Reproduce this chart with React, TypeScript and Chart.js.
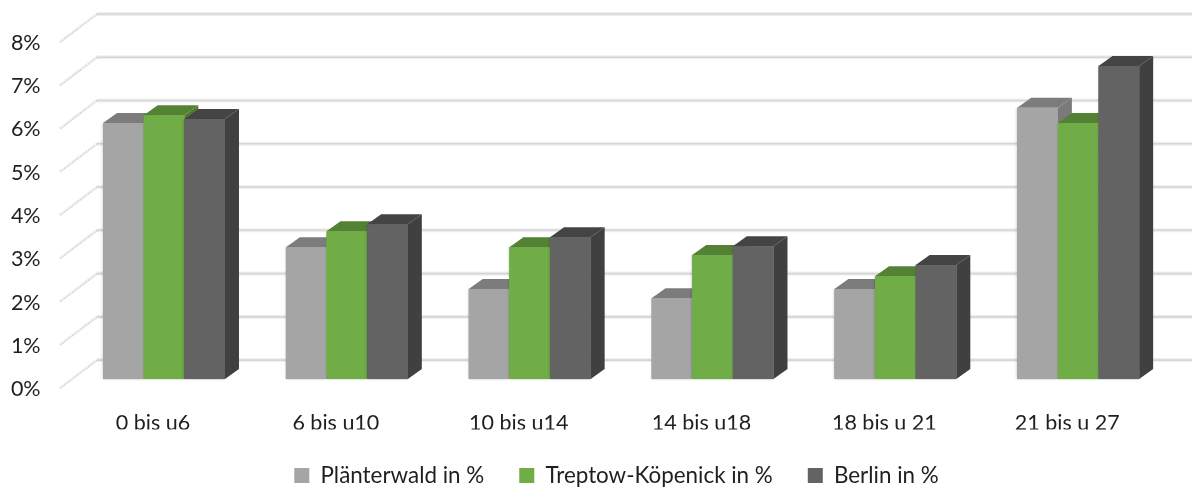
import React, { useEffect, useRef } from "react";
import { Chart, registerables } from "chart.js";

Chart.register(...registerables);

const categories = ["0 bis u6", "6 bis u10", "10 bis u14", "14 bis u18", "18 bis u 21", "21 bis u 27"];
const plaenterwald = [5.92, 3.05, 2.08, 1.87, 2.08, 6.27];
const treptow = [6.1, 3.42, 3.05, 2.87, 2.38, 5.92];
const berlin = [6.01, 3.58, 3.28, 3.07, 2.64, 7.24];
const seriesNames = ["Plänterwald in %", "Treptow-Köpenick in %", "Berlin in %"];
const frontColors = ["#a5a5a5", "#70ad47", "#636363"];
const topColors = ["#7c7c7c", "#548235", "#444444"];
const sideColors = ["#7a7a7a", "#4f7a32", "#404040"];

const DEPTH_X = 14;
const DEPTH_Y = 10;
const WALL_DY = -19;
const FLOOR_DY = 9;
const WALL_LEFT = 97;
const FRONT_LEFT = 60;

const depthPlugin = {
  id: "depth",
  afterLayout(chart: any) {
    // tick labels are clipped to the axis box: let it reach the canvas edge
    chart.scales.y.left = 0;
  },
  beforeDatasetsDraw(chart: any) {
    const { ctx, scales } = chart;
    const y = scales.y;
    ctx.save();
    for (const tick of y.ticks) {
      const p = y.getPixelForValue(tick.value);
      const back = p + WALL_DY;
      const front = p + FLOOR_DY;
      ctx.strokeStyle = "#efefef";
      ctx.lineWidth = 4;
      ctx.beginPath();
      ctx.moveTo(WALL_LEFT, back);
      ctx.lineTo(chart.width, back);
      ctx.stroke();
      ctx.strokeStyle = "#d6d6d6";
      ctx.lineWidth = 1.6;
      ctx.beginPath();
      ctx.moveTo(WALL_LEFT, back);
      ctx.lineTo(chart.width, back);
      ctx.stroke();
      ctx.strokeStyle = "#d6d6d6";
      ctx.lineWidth = 2.4;
      ctx.setLineDash([1.5, 1]);
      ctx.beginPath();
      ctx.moveTo(FRONT_LEFT, front);
      ctx.lineTo(WALL_LEFT, back);
      ctx.stroke();
      ctx.setLineDash([]);
    }
    ctx.restore();
    // paint series left to right so each bar overlaps the side of the one before
    [0, 1, 2].forEach((i) => {
      const meta = chart.getDatasetMeta(i);
      for (const bar of meta.data) {
        const { x, y: top, base, width } = bar.getProps(["x", "y", "base", "width"], true);
        const l = x - width / 2;
        const r = x + width / 2;
        ctx.save();
        ctx.shadowColor = "rgba(0,0,0,0.28)";
        ctx.shadowBlur = 3;
        ctx.fillStyle = frontColors[i];
        ctx.fillRect(l, top, width, base - top);
        ctx.restore();
        ctx.fillStyle = sideColors[i];
        ctx.beginPath();
        ctx.moveTo(r, top);
        ctx.lineTo(r + DEPTH_X, top - DEPTH_Y);
        ctx.lineTo(r + DEPTH_X, base - DEPTH_Y);
        ctx.lineTo(r, base);
        ctx.closePath();
        ctx.fill();
        ctx.fillStyle = topColors[i];
        ctx.beginPath();
        ctx.moveTo(l, top);
        ctx.lineTo(l + DEPTH_X, top - DEPTH_Y);
        ctx.lineTo(r + DEPTH_X, top - DEPTH_Y);
        ctx.lineTo(r, top);
        ctx.closePath();
        ctx.fill();
      }
      meta.controller.draw();
    });
  },
  beforeDatasetDraw() {
    return false;
  },
};

export default function App() {
  const ref = useRef<HTMLCanvasElement>(null);
  useEffect(() => {
    const series = [plaenterwald, treptow, berlin];
    const chart = new Chart(ref.current!, {
      type: "bar",
      data: {
        labels: categories,
        datasets: series.map((data, i) => ({
          label: seriesNames[i],
          data,
          backgroundColor: frontColors[i],
          barPercentage: 1,
          categoryPercentage: 0.667,
        })),
      },
      options: {
        responsive: false,
        animation: false,
        layout: { padding: { top: 33, right: 22.4, left: 63.4, bottom: -6.8 } },
        plugins: {
          tooltip: { enabled: false },
          legend: {
            position: "bottom",
            labels: {
              boxWidth: 15,
              boxHeight: 15,
              padding: 35,
              color: "#1f1f1f",
              font: { family: "Lato", size: 22.4 },
            },
          },
        },
        scales: {
          x: {
            grid: { display: false, drawTicks: false },
            border: { display: false },
            afterFit(s: any) {
              s.height = 50.3;
              s.paddingLeft = 0;
              s.paddingRight = 0;
            },
            ticks: {
              padding: 31,
              labelOffset: -11,
              maxRotation: 0,
              autoSkip: false,
              color: "#1f1f1f",
              font: { family: "Lato", size: 21.5 },
            },
          },
          y: {
            min: 0,
            max: 8,
            grid: { display: false, drawTicks: false },
            border: { display: false },
            afterFit(s: any) {
              s.width = 9.2;
              s.paddingTop = 0;
              s.paddingBottom = 0;
            },
            ticks: {
              stepSize: 1,
              padding: 32,
              labelOffset: 10,
              color: "#1f1f1f",
              font: { family: "Lato", size: 21.5 },
              callback: (v: any) => v + "%",
            },
          },
        },
      },
      plugins: [depthPlugin],
    } as any);
    return () => chart.destroy();
  }, []);
  return (
    <div style={{ position: "fixed", left: 0, top: 0, width: 1192, height: 490, background: "#fff" }}>
      <canvas ref={ref} width={1192} height={490} style={{ display: "block" }} />
    </div>
  );
}
